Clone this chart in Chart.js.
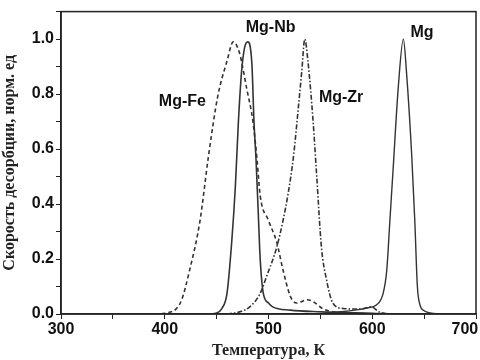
<!DOCTYPE html>
<html>
<head>
<meta charset="utf-8">
<script src="https://cdn.jsdelivr.net/npm/chart.js@4/dist/chart.umd.min.js"></script>
<style>
  html, body { margin: 0; padding: 0; background: #fff; }
  #wrap { width: 480px; height: 360px; }
</style>
</head>
<body>
<div id="wrap"><canvas id="tdsChart" width="480" height="360"></canvas></div>
<script>
// desorption rate curves (T in K, rate normalised)
const mgFeT = [390, 400, 415, 424, 434, 442, 451, 460, 466, 472, 479, 485, 489, 492, 500, 508, 514, 521, 527, 532, 537, 543, 552, 562, 580, 620, 700];
const mgFeV = [0, 0.003, 0.04, 0.16, 0.34, 0.57, 0.79, 0.92, 0.99, 0.95, 0.82, 0.70, 0.56, 0.43, 0.34, 0.26, 0.16, 0.065, 0.04, 0.045, 0.052, 0.045, 0.02, 0.008, 0.003, 0, 0];

const mgNbT = [300, 440, 450, 455, 460, 464.5, 468, 471, 474, 477, 480, 484, 486, 488, 490, 492, 495, 500, 504, 521, 550, 600, 630, 700];
const mgNbV = [0, 0, 0.004, 0.02, 0.075, 0.26, 0.46, 0.70, 0.88, 0.97, 0.99, 0.91, 0.70, 0.56, 0.38, 0.20, 0.075, 0.04, 0.026, 0.014, 0.008, 0.003, 0, 0];

const mgZrT = [460, 466, 474, 482, 492, 498, 508, 514, 519, 524, 529, 532, 535, 538, 543, 546.5, 551, 556, 562, 572, 588, 599, 607, 620, 700];
const mgZrV = [0, 0.003, 0.01, 0.026, 0.075, 0.135, 0.244, 0.34, 0.44, 0.57, 0.76, 0.88, 1.0, 0.92, 0.70, 0.50, 0.244, 0.123, 0.04, 0.02, 0.018, 0.026, 0.007, 0, 0];

const mgT = [540, 570, 585, 595, 604, 610.5, 614, 617, 620, 625, 630, 633, 638, 641, 643.5, 646, 650, 656, 670, 700];
const mgV = [0, 0.008, 0.015, 0.022, 0.033, 0.075, 0.16, 0.34, 0.52, 0.82, 1.0, 0.88, 0.58, 0.34, 0.10, 0.033, 0.012, 0.004, 0, 0];

const curveNames = ['Mg-Fe', 'Mg-Nb', 'Mg-Zr', 'Mg'];
// where each name sits, in data units (T, rate)
const nameT = [417, 502, 570, 648];
const nameV = [0.772, 1.043, 0.786, 1.022];
const xTitle = 'Температура, К';
const yTitle = 'Скорость десорбции, норм. ед';

const toPts = (ts, vs) => ts.map((t, i) => ({ x: t, y: vs[i] }));

const lineColor = '#333';
const sansBold = '"Liberation Sans", Arial, sans-serif';
const serif = '"Liberation Serif", "Times New Roman", serif';

// curve names written next to the peaks
const labelPlugin = {
  id: 'curveLabels',
  afterDatasetsDraw(chart) {
    const { ctx, scales: { x, y } } = chart;
    ctx.save();
    ctx.font = 'bold 16px ' + sansBold;
    ctx.fillStyle = '#111';
    ctx.textAlign = 'center';
    ctx.textBaseline = 'middle';
    curveNames.forEach((n, i) => {
      ctx.fillText(n, x.getPixelForValue(nameT[i]), y.getPixelForValue(nameV[i]));
    });
    ctx.restore();
  }
};

// full frame around the plot
const framePlugin = {
  id: 'frame',
  afterDraw(chart) {
    const a = chart.chartArea;
    const ctx = chart.ctx;
    ctx.save();
    ctx.strokeStyle = '#222';
    ctx.lineWidth = 1.5;
    ctx.strokeRect(a.left, a.top, a.right - a.left, a.bottom - a.top);
    ctx.restore();
  }
};

const ctx = document.getElementById('tdsChart').getContext('2d');
new Chart(ctx, {
  type: 'line',
  data: {
    datasets: [
      { label: curveNames[0], data: toPts(mgFeT, mgFeV), borderColor: lineColor, borderWidth: 1.6, borderDash: [4, 3] },
      { label: curveNames[1], data: toPts(mgNbT, mgNbV), borderColor: lineColor, borderWidth: 1.6 },
      { label: curveNames[2], data: toPts(mgZrT, mgZrV), borderColor: lineColor, borderWidth: 1.6, borderDash: [5, 2, 1.5, 2] },
      { label: curveNames[3], data: toPts(mgT, mgV), borderColor: lineColor, borderWidth: 1.4 }
    ]
  },
  options: {
    responsive: false,
    animation: false,
    layout: { padding: { top: 11, right: 4, left: 0, bottom: 0 } },
    elements: {
      point: { radius: 0 },
      line: { tension: 0.4, cubicInterpolationMode: 'monotone', fill: false }
    },
    plugins: { legend: { display: false }, tooltip: { enabled: false } },
    scales: {
      x: {
        type: 'linear',
        min: 300,
        max: 700,
        afterFit(s) { s.height = 46; s.paddingRight = 0; s.paddingLeft = 0; },
        ticks: {
          stepSize: 50,
          autoSkip: false,
          maxRotation: 0,
          padding: 1,
          color: '#111',
          font: { family: sansBold, size: 16, weight: 'bold' },
          callback: v => {
            if (v % 100 !== 0) return '';
            // last label is pushed left so it stays inside the frame
            return v === 700 ? v + '\u00a0\u00a0\u00a0\u00a0\u00a0' : v;
          }
        },
        grid: { drawOnChartArea: false, tickLength: 5, color: '#222' },
        border: { color: '#222', width: 1.5 },
        title: {
          display: true,
          text: xTitle,
          color: '#222',
          padding: { top: 0, bottom: 0 },
          font: { family: serif, size: 16, weight: 'bold' }
        }
      },
      y: {
        min: 0,
        max: 1.1,
        afterFit(s) { s.width = 61; },
        ticks: {
          stepSize: 0.1,
          autoSkip: false,
          padding: 2,
          color: '#111',
          font: { family: sansBold, size: 16, weight: 'bold' },
          callback: v => {
            const k = Math.round(v * 10);
            return (k % 2 === 0 && k <= 10) ? (k / 10).toFixed(1) : '';
          }
        },
        grid: { drawOnChartArea: false, tickLength: 5, color: '#222' },
        border: { color: '#222', width: 1.5 },
        title: {
          display: true,
          text: yTitle,
          color: '#222',
          padding: { top: 0, bottom: 0 },
          font: { family: serif, size: 16, weight: 'bold' }
        }
      }
    }
  },
  plugins: [labelPlugin, framePlugin]
});
</script>
</body>
</html>
